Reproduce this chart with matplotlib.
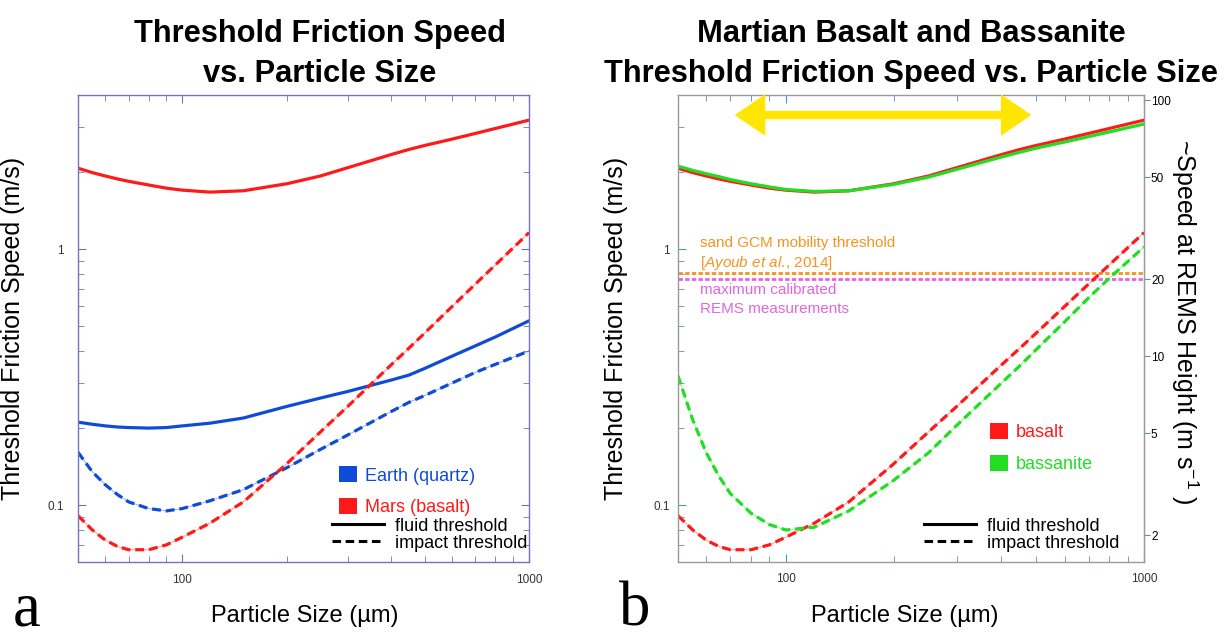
import matplotlib.pyplot as plt
import numpy as np
from matplotlib.font_manager import FontProperties
from matplotlib.patches import Patch
from matplotlib.lines import Line2D
from matplotlib.ticker import FixedLocator, LogLocator, FuncFormatter, NullFormatter, NullLocator

plt.rcParams['font.family'] = ['Liberation Sans', 'DejaVu Sans']
plt.rcParams['mathtext.fontset'] = 'custom'
plt.rcParams['mathtext.rm'] = 'Liberation Sans'
plt.rcParams['mathtext.it'] = 'Liberation Sans:italic'

# particle diameter (um) and threshold friction speeds (m/s)
size_um = [50, 55, 60, 65, 70, 80, 90, 100, 120, 150, 200, 250, 300, 400, 450, 500, 600, 700, 800, 1000]
earth_fluid = [0.211, 0.207, 0.204, 0.202, 0.201, 0.200, 0.201, 0.204, 0.209, 0.219, 0.243, 0.262,
               0.278, 0.308, 0.322, 0.342, 0.382, 0.419, 0.454, 0.525]
earth_impact = [0.161, 0.135, 0.120, 0.110, 0.103, 0.097, 0.095, 0.097, 0.104, 0.115, 0.140, 0.165,
                0.188, 0.232, 0.252, 0.268, 0.300, 0.330, 0.355, 0.400]
mars_fluid = [2.07, 1.99, 1.93, 1.88, 1.84, 1.78, 1.73, 1.70, 1.67, 1.69, 1.80, 1.93,
              2.08, 2.34, 2.45, 2.54, 2.69, 2.83, 2.96, 3.19]
mars_impact = [0.091, 0.080, 0.073, 0.069, 0.067, 0.067, 0.070, 0.075, 0.085, 0.103, 0.145, 0.193,
               0.243, 0.353, 0.410, 0.470, 0.597, 0.730, 0.868, 1.16]
bassanite_fluid = [2.11, 2.03, 1.97, 1.92, 1.87, 1.80, 1.75, 1.71, 1.68, 1.69, 1.79, 1.91,
                   2.05, 2.29, 2.39, 2.48, 2.62, 2.75, 2.87, 3.08]
bassanite_impact = [0.32, 0.215, 0.16, 0.13, 0.111, 0.093, 0.084, 0.080, 0.082, 0.095, 0.125, 0.16,
                    0.205, 0.30, 0.35, 0.405, 0.52, 0.645, 0.77, 1.02]

gcm_threshold = 0.806    # sand GCM mobility threshold
rems_max = 0.763         # maximum calibrated REMS speed
rems_factor = 26.2       # friction speed -> speed at REMS height
mobile_range = [72, 485]
arrow_level = 3.34

RED = '#ff1a1a'
BLUE = '#0f4cd6'
GREEN = '#22dd22'
ORANGE = '#f7941d'
MAGENTA = '#e066e0'
YELLOW = '#ffe500'

fig = plt.figure(figsize=(12.28, 6.4), dpi=100)
ax1 = fig.add_axes([0.0635, 0.1219, 0.3673, 0.7297])
ax2 = fig.add_axes([0.5521, 0.1219, 0.3795, 0.7297])

fmt = FuncFormatter(lambda v, p: f'{v:g}')
DASH = (0, (2.8, 1.5))


def curve(ax, y, color, impact=False):
    if impact:
        ax.plot(size_um, y, color=color, lw=0.7, alpha=0.45)
        ax.plot(size_um, y, color=color, lw=2.3, linestyle=DASH)
    else:
        ax.plot(size_um, y, color=color, lw=2.3, solid_capstyle='round')


def style_axes(ax, spine_color, tick_color, right_ticks, ypad, xpad):
    ax.set_xscale('log')
    ax.set_yscale('log')
    ax.set_xlim(50, 1000)
    ax.set_ylim(0.06, 4.0)
    for s in ax.spines.values():
        s.set_color(spine_color)
        s.set_linewidth(1.0)
    ax.xaxis.set_major_locator(FixedLocator([100, 1000]))
    ax.xaxis.set_minor_locator(LogLocator(base=10, subs=np.arange(2, 10), numticks=20))
    ax.yaxis.set_major_locator(FixedLocator([0.1, 1]))
    ax.yaxis.set_minor_locator(LogLocator(base=10, subs=np.arange(2, 10), numticks=20))
    for axis in (ax.xaxis, ax.yaxis):
        axis.set_major_formatter(fmt)
        axis.set_minor_formatter(NullFormatter())
    ax.tick_params(which='both', direction='in', top=True, right=right_ticks,
                   color=tick_color, labelsize=8.5, labelcolor='#333333')
    ax.tick_params(which='major', length=6)
    ax.tick_params(which='minor', length=4.5)
    ax.tick_params(axis='y', pad=ypad)
    ax.tick_params(axis='x', pad=xpad)
    ax.set_xlabel('Particle Size (µm)', fontsize=17)
    ax.set_ylabel('Threshold Friction Speed (m/s)', fontsize=18)


def add_key(ax, colors, names, anchor_mat, anchor_style):
    mat = ax.legend(handles=[Patch(facecolor=c, edgecolor='none') for c in colors], labels=names,
                    labelcolor=colors, loc='upper left', bbox_to_anchor=anchor_mat, frameon=False,
                    fontsize=13, handlelength=1.0, handleheight=1.0, handletextpad=0.45,
                    labelspacing=0.75, borderaxespad=0, borderpad=0)
    ax.add_artist(mat)
    styles = [Line2D([], [], color='black', lw=2.2),
              Line2D([], [], color='black', lw=2.2, linestyle=DASH)]
    ax.legend(handles=styles, labels=['fluid threshold', 'impact threshold'], loc='upper left',
              bbox_to_anchor=anchor_style, frameon=False, fontsize=13, handlelength=2.9,
              handletextpad=0.6, labelspacing=0.0, borderaxespad=0, borderpad=0)


# panel a: Earth vs Mars
curve(ax1, mars_fluid, RED)
curve(ax1, earth_fluid, BLUE)
curve(ax1, earth_impact, BLUE, impact=True)
curve(ax1, mars_impact, RED, impact=True)
style_axes(ax1, '#7373b8', '#7373b8', True, 10, 9)
ax1.xaxis.set_label_coords(0.503, -0.092)
ax1.yaxis.set_label_coords(-0.1175, 0.5)
add_key(ax1, [BLUE, RED], ['Earth (quartz)', 'Mars (basalt)'], (0.579, 0.205), (0.563, 0.095))

# panel b: basalt vs bassanite on Mars
ax2.axhline(gcm_threshold, color=ORANGE, lw=2.0, linestyle=(0, (1.6, 0.8)))
ax2.axhline(rems_max, color=MAGENTA, lw=2.0, linestyle=(0, (1.6, 0.8)))
curve(ax2, mars_fluid, RED)
curve(ax2, bassanite_fluid, GREEN)
curve(ax2, mars_impact, RED, impact=True)
curve(ax2, bassanite_impact, GREEN, impact=True)
style_axes(ax2, '#999999', '#4a90e2', False, 6, 8)
ax2.xaxis.set_label_coords(0.487, -0.092)
ax2.yaxis.set_label_coords(-0.107, 0.5)
add_key(ax2, [RED, GREEN], ['basalt', 'bassanite'], (0.6695, 0.298), (0.528, 0.095))

ax2.text(57.5, 1.055, 'sand GCM mobility threshold', color=ORANGE, fontsize=11, va='center')
ax2.text(57.5, 0.882, r'[$\it{Ayoub\ et\ al.}\!$, 2014]', color=ORANGE, fontsize=11, va='center')
ax2.text(57.5, 0.691, 'maximum calibrated', color=MAGENTA, fontsize=11, va='center')
ax2.text(57.5, 0.583, 'REMS measurements', color=MAGENTA, fontsize=11, va='center')

# double-headed arrow over the mobile size range
mid = np.sqrt(mobile_range[0] * mobile_range[1])
for end in mobile_range:
    ax2.annotate('', xy=(end, arrow_level), xytext=(mid, arrow_level),
                 arrowprops=dict(arrowstyle='simple,head_length=1.1,head_width=1.5,tail_width=0.3',
                                 color=YELLOW, lw=0, shrinkA=0, shrinkB=0, mutation_scale=20))

sec = ax2.secondary_yaxis('right', functions=(lambda v: v * rems_factor, lambda v: v / rems_factor))
sec.yaxis.set_major_locator(FixedLocator([2, 5, 10, 20, 50, 100]))
sec.yaxis.set_minor_locator(NullLocator())
sec.yaxis.set_major_formatter(fmt)
sec.tick_params(direction='out', length=4, color='#4a90e2', labelsize=8.5, pad=1)
sec.spines['right'].set_color('#999999')
sec.set_ylabel('~Speed at REMS Height (m s$^{-1}$ )', fontsize=18, rotation=270)
sec.yaxis.set_label_coords(1.12, 0.514, transform=ax2.transAxes)

# titles: bold, sized so the long line spans the right panel's title width
title_fp = FontProperties(family='Liberation Sans', weight='bold', size=26)
probe = fig.text(0, 0, 'Threshold Friction Speed vs. Particle Size', fontproperties=title_fp)
probe_w = probe.get_window_extent(fig.canvas.get_renderer()).width
probe.remove()
title_fp.set_size(26 * 615 / probe_w)

fig.text(0.2606, 0.935, 'Threshold Friction Speed', ha='center', fontproperties=title_fp)
fig.text(0.2606, 0.872, 'vs. Particle Size', ha='center', fontproperties=title_fp)
fig.text(0.742, 0.935, 'Martian Basalt and Bassanite', ha='center', fontproperties=title_fp)
fig.text(0.742, 0.872, 'Threshold Friction Speed vs. Particle Size', ha='center', fontproperties=title_fp)

fig.text(0.0106, 0.0, 'a', fontsize=45, va='bottom', family=['Liberation Serif', 'DejaVu Serif'])
fig.text(0.504, 0.0, 'b', fontsize=45, va='bottom', family=['Liberation Serif', 'DejaVu Serif'])

fig.savefig('out.png', dpi=100)
